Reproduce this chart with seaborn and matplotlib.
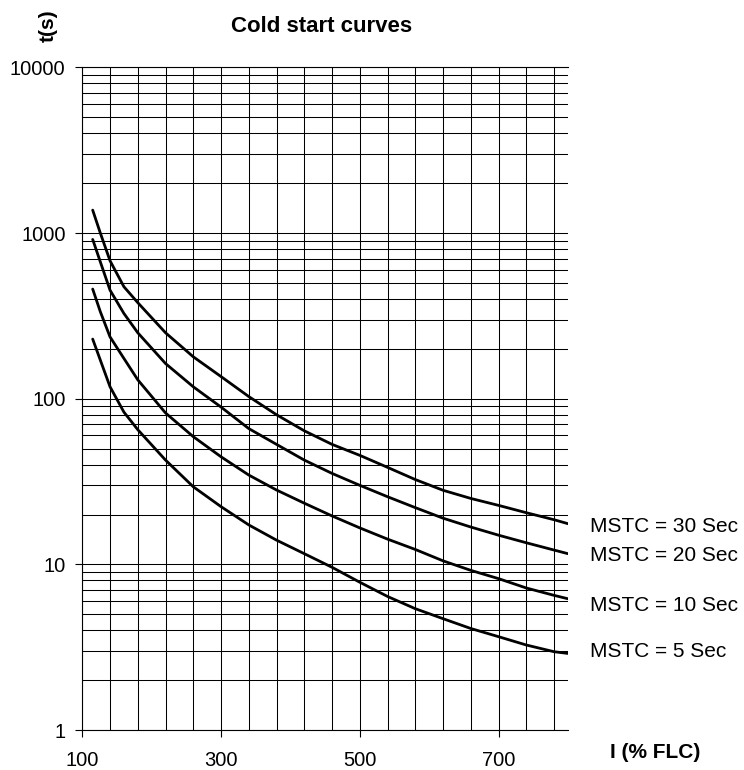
import numpy as np
import pandas as pd
import matplotlib
matplotlib.use("Agg")
import matplotlib.pyplot as plt
import seaborn as sns
from matplotlib.ticker import FixedLocator, LogLocator, NullFormatter

# Current in % of full load current
current = [115, 126, 140, 160, 180, 220, 260, 300, 340, 380, 420, 460,
           500, 540, 580, 620, 660, 700, 740, 780, 800]

# Trip times (s), one list per MSTC setting
t_mstc30 = [1375, 1000, 680, 474, 380, 250, 179, 136, 103, 80, 64, 53,
            45.5, 38.5, 32.5, 28, 25, 22.7, 20.5, 18.6, 17.6]
t_mstc20 = [915, 670, 452, 327, 250, 163, 118, 89, 66, 53, 42.6, 35.4,
            30, 25.6, 22, 19, 16.8, 15, 13.5, 12.2, 11.6]
t_mstc10 = [459, 335, 236, 175, 130, 82, 59, 44.6, 34.6, 28.1, 23.4, 19.6,
            16.6, 14.2, 12.3, 10.5, 9.2, 8.2, 7.2, 6.5, 6.2]
t_mstc5 = [229, 171, 118, 83, 65, 42.6, 29.4, 22.3, 17.3, 14, 11.6, 9.6,
           7.8, 6.4, 5.4, 4.7, 4.1, 3.66, 3.26, 2.97, 2.9]

series_names = ["MSTC = 30 Sec", "MSTC = 20 Sec", "MSTC = 10 Sec", "MSTC = 5 Sec"]
series_values = [t_mstc30, t_mstc20, t_mstc10, t_mstc5]

x_ticks = [100, 300, 500, 700]
y_ticks = [1, 10, 100, 1000, 10000]
y_tick_labels = ["1", "10", "100", "1000", "10000"]

# label nudges (points) so the text sits next to each curve end
label_dy = [-2.2, -1.0, -4.5, 1.2]

df = pd.concat([
    pd.DataFrame({"current": current, "time": vals, "curve": name})
    for name, vals in zip(series_names, series_values)
])

sns.set_style("white")
plt.rcParams["font.family"] = ["Liberation Sans", "DejaVu Sans"]
plt.rcParams["text.color"] = "black"
plt.rcParams["xtick.color"] = "black"
plt.rcParams["ytick.color"] = "black"

fig = plt.figure(figsize=(7.44, 7.70), dpi=100)
ax = fig.add_axes([0.1106, 0.0519, 0.6528, 0.8606])

sns.lineplot(data=df, x="current", y="time", hue="curve",
             palette=["black"] * len(series_names), legend=False,
             linewidth=2.0, sort=False, estimator=None, ax=ax)

ax.set_yscale("log")
ax.set_xlim(100, 800)
ax.set_ylim(1, 10000)

# x: labelled ticks every 200, grid every 40
ax.xaxis.set_major_locator(FixedLocator(x_ticks))
ax.xaxis.set_minor_locator(FixedLocator(np.arange(100, 800, 40)))
ax.xaxis.set_minor_formatter(NullFormatter())

ax.set_yticks(y_ticks)
ax.set_yticklabels(y_tick_labels)
ax.yaxis.set_minor_locator(LogLocator(base=10, subs=np.arange(2, 10)))
ax.yaxis.set_minor_formatter(NullFormatter())

ax.grid(True, which="both", color="black", linewidth=0.75)
ax.tick_params(which="major", direction="out", length=5, width=0.8,
               color="black", labelcolor="black", labelsize=14.5)
ax.tick_params(axis="x", which="major", pad=10)
ax.tick_params(axis="y", which="major", pad=7)
ax.tick_params(which="minor", length=0)
ax.tick_params(bottom=True, left=True)

for side in ["left", "bottom", "top"]:
    ax.spines[side].set_visible(True)
    ax.spines[side].set_color("black")
    ax.spines[side].set_linewidth(0.8)
ax.spines["right"].set_visible(False)

ax.set_xlabel("")
ax.set_ylabel("")

for name, vals, dy in zip(series_names, series_values, label_dy):
    ax.annotate(name, xy=(current[-1], vals[-1]), xytext=(16, dy),
                textcoords="offset points", ha="left", va="center",
                fontsize=15, color="black", annotation_clip=False)

fig.text(321.7 / 744, 1 - 26 / 770, "Cold start curves", ha="center",
         va="center", fontsize=16, fontweight="bold", color="black")
fig.text(48 / 744, 1 - 26 / 770, "t(s)", rotation=90, ha="center",
         va="center", fontsize=15, fontweight="bold", color="black")
fig.text(610 / 744, 1 - 753 / 770, "I (% FLC)", ha="left", va="center",
         fontsize=15, fontweight="bold", color="black")

fig.savefig("out.png", dpi=100)
